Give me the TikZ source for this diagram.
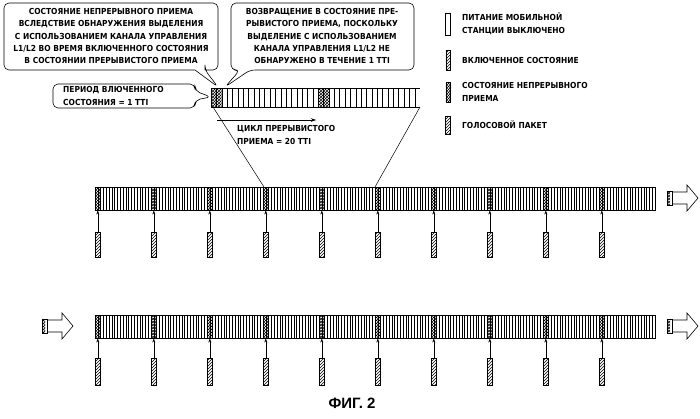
\documentclass[tikz,border=0pt]{standalone}
\usepackage{fontspec}
\setmainfont{Liberation Sans}
\newfontfamily\lblfont{DejaVu Sans Condensed}[BoldFont={DejaVu Sans Condensed Bold}]
\usetikzlibrary{patterns,arrows.meta}
\begin{document}
\begin{tikzpicture}[x=1pt,y=-1pt,
  txt/.style={font=\lblfont\bfseries\fontsize{8.3}{12.4}\selectfont,inner sep=0pt,align=center},
  callout/.style={draw,rounded corners=5pt,line width=0.6pt},
  cellline/.style={line width=0.35pt},
  pkt/.style={draw,line width=0.6pt,pattern=north east lines},
  conn/.style={line width=0.5pt}]
\useasboundingbox (0,0) rectangle (700,418);
% ---------- zoomed top bar
\def\tw{5.36}
\foreach \c in {0,20}{\fill[pattern=crosshatch] ({211+\c*\tw},88) rectangle ({211+(\c+2)*\tw},107);}
\foreach \i in {1,...,38}{\draw[cellline] ({211+\i*\tw},88) -- ({211+\i*\tw},107);}
\draw[line width=0.7pt] (211,88) -- (420,88) (211,107) -- (420,107) (211,88) -- (211,107);
\coordinate (zl) at (213,107); \coordinate (zr) at (420,107);
% ---------- main bars
\foreach \y/\b in {187/one,315/two}{
  \foreach \c in {0,20,...,180}{\fill[pattern=crosshatch] ({95+\c*2.8},\y) rectangle ({95+(\c+2)*2.8},\y+23);}
  \foreach \i in {1,...,199}{\draw[cellline] ({95+\i*2.8},\y) -- ({95+\i*2.8},\y+23);}
  \draw[line width=0.7pt] (95,\y) rectangle (655,\y+23);
}
\coordinate (b1a) at (264,187); \coordinate (b1b) at (375,187);
\draw[conn] (zl) -- (b1a);
\draw[conn] (zr) -- (b1b);
% packets
\foreach \k in {0,...,9}{
  \pgfmathsetmacro{\px}{97.8+\k*56}
  \node[pkt,minimum width=4.5pt,minimum height=25pt,inner sep=0pt,anchor=north] (p1\k) at (\px,232) {};
  \draw[-{Stealth[length=4pt,width=3pt]},conn] (p1\k.north) -- (\px,210.5);
  \node[pkt,minimum width=4.5pt,minimum height=27pt,inner sep=0pt,anchor=north] (p2\k) at (\px,358) {};
  \draw[-{Stealth[length=4pt,width=3pt]},conn] (p2\k.north) -- (\px,338.5);
}
% big hollow arrows
\def\bigarrow#1#2{%
  \fill[pattern=crosshatch] (#1,#2-7) rectangle (#1+3,#2+7);
  \draw[line width=0.6pt] (#1,#2-7) rectangle (#1+5,#2+7);
  \draw[line width=0.6pt] (#1+5,#2-6) -- (#1+20,#2-6) -- (#1+20,#2-13) -- (#1+31,#2) -- (#1+20,#2+13) -- (#1+20,#2+6) -- (#1+5,#2+6);}
\bigarrow{667}{198}
\bigarrow{667}{326}
\bigarrow{42}{326}
% ---------- callouts
\node[txt] (t1) at (111,36) {СОСТОЯНИЕ НЕПРЕРЫВНОГО ПРИЕМА\\ВСЛЕДСТВИЕ ОБНАРУЖЕНИЯ ВЫДЕЛЕНИЯ\\С ИСПОЛЬЗОВАНИЕМ КАНАЛА УПРАВЛЕНИЯ\\L1/L2 ВО ВРЕМЯ ВКЛЮЧЕННОГО СОСТОЯНИЯ\\В СОСТОЯНИИ ПРЕРЫВИСТОГО ПРИЕМА};
\draw[callout] (195,70) -- (218,87) -- (205,70) [sharp corners] -- (205,70) [rounded corners=5pt] -- (218,70) -- (218,3) -- (4,3) -- (4,70) -- (195,70);
\node[txt] (t2) at (322,36) {ВОЗВРАЩЕНИЕ В СОСТОЯНИЕ ПРЕ-\\РЫВИСТОГО ПРИЕМА, ПОСКОЛЬКУ\\ВЫДЕЛЕНИЕ С ИСПОЛЬЗОВАНИЕМ\\КАНАЛА УПРАВЛЕНИЯ L1/L2 НЕ\\ОБНАРУЖЕНО В ТЕЧЕНИЕ 1 TTI};
\draw[callout] (240,70) -- (225,87) -- (250,70) -- (414,70) -- (414,3) -- (231,3) -- (231,70) -- cycle;
\node[txt,align=left,anchor=west] (t3) at (63,96) {ПЕРИОД ВЛЮЧЕННОГО\\СОСТОЯНИЯ = 1 TTI};
\draw[callout] (195,91) -- (211,97) -- (195,100) -- (195,108) -- (53,108) -- (53,84) -- (195,84) -- cycle;
% cycle arrow
\coordinate (ca) at (217,120); \coordinate (cb) at (316,120);
\draw[conn,-{Stealth[length=5pt,width=3.5pt]}] (ca) -- (cb);
\node[txt,align=left,anchor=west] (t4) at (237,135) {ЦИКЛ ПРЕРЫВИСТОГО\\ПРИЕМА = 20 TTI};
% ---------- legend
\node[draw,line width=0.6pt,minimum width=4.5pt,minimum height=22pt,inner sep=0pt] (l1) at (448,24) {};
\node[txt,align=left,anchor=west] (lt1) at (462,24) {ПИТАНИЕ МОБИЛЬНОЙ\\СТАНЦИИ ВЫКЛЮЧЕНО};
\node[draw,line width=0.5pt,pattern=north east lines,minimum width=4.5pt,minimum height=20pt,inner sep=0pt] (l2) at (448,60) {};
\node[txt,align=left,anchor=west] (lt2) at (462,60) {ВКЛЮЧЕННОЕ СОСТОЯНИЕ};
\node[draw,line width=0.5pt,pattern=crosshatch,minimum width=4.5pt,minimum height=20pt,inner sep=0pt] (l3) at (448,92) {};
\node[txt,align=left,anchor=west] (lt3) at (462,92) {СОСТОЯНИЕ НЕПРЕРЫВНОГО\\ПРИЕМА};
\node[pkt,minimum width=4.5pt,minimum height=18pt,inner sep=0pt] (l4) at (448,125) {};
\node[txt,align=left,anchor=west] (lt4) at (462,125) {ГОЛОСОВОЙ ПАКЕТ};
% ---------- title
\node[font=\bfseries\fontsize{15}{18}\selectfont] (title) at (352,403) {ФИГ. 2};
\end{tikzpicture}
\end{document}
